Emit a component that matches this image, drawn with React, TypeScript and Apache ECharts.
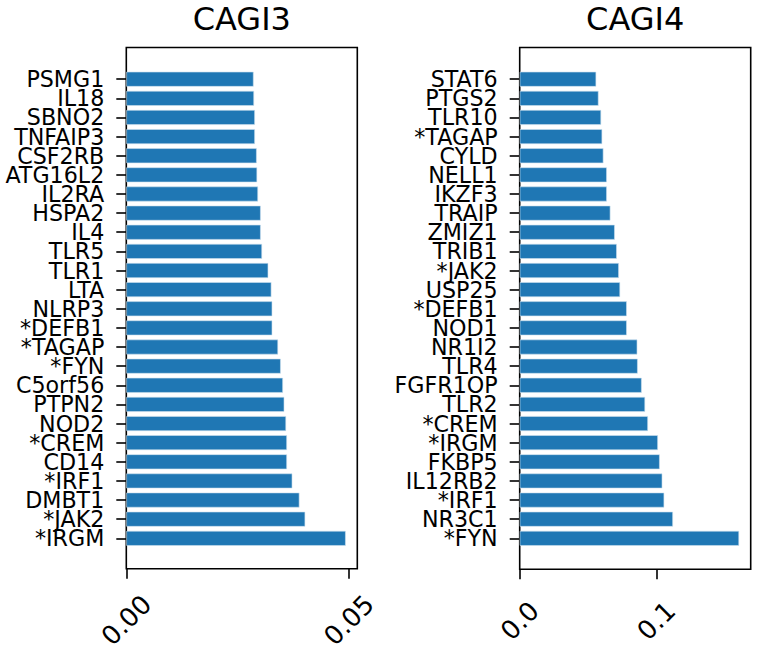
import React, { useEffect, useRef } from "react";
import * as echarts from "echarts";

// CAGI3 panel
const cagi3Genes = [
  "PSMG1", "IL18", "SBNO2", "TNFAIP3", "CSF2RB", "ATG16L2", "IL2RA", "HSPA2",
  "IL4", "TLR5", "TLR1", "LTA", "NLRP3", "*DEFB1", "*TAGAP", "*FYN",
  "C5orf56", "PTPN2", "NOD2", "*CREM", "CD14", "*IRF1", "DMBT1", "*JAK2", "*IRGM",
];
const cagi3Values = [
  0.0286, 0.0287, 0.0289, 0.0289, 0.0293, 0.0294, 0.0296, 0.0302,
  0.0302, 0.0305, 0.0319, 0.0326, 0.0328, 0.0328, 0.0341, 0.0347,
  0.0352, 0.0355, 0.0359, 0.0361, 0.0361, 0.0373, 0.0389, 0.0402, 0.0493,
];
const cagi3TickValues = [0, 0.05];
const cagi3TickLabels = ["0.00", "0.05"];
const cagi3Max = 0.0519;

// CAGI4 panel
const cagi4Genes = [
  "STAT6", "PTGS2", "TLR10", "*TAGAP", "CYLD", "NELL1", "IKZF3", "TRAIP",
  "ZMIZ1", "TRIB1", "*JAK2", "USP25", "*DEFB1", "NOD1", "NR1I2", "TLR4",
  "FGFR1OP", "TLR2", "*CREM", "*IRGM", "FKBP5", "IL12RB2", "*IRF1", "NR3C1", "*FYN",
];
const cagi4Values = [
  0.056, 0.0577, 0.0596, 0.0604, 0.0613, 0.0638, 0.0638, 0.0664,
  0.0696, 0.0711, 0.0726, 0.0735, 0.0784, 0.0784, 0.0861, 0.0864,
  0.0893, 0.0918, 0.0939, 0.1012, 0.1025, 0.1044, 0.1058, 0.1122, 0.1606,
];
const cagi4TickValues = [0, 0.1];
const cagi4TickLabels = ["0.0", "0.1"];
const cagi4Max = 0.1691;

const titles = ["CAGI3", "CAGI4"];

const FONT = "DejaVu Sans";
const BAR_COLOR = "#1f77b4";

export default function App() {
  const ref = useRef<HTMLDivElement>(null);

  useEffect(() => {
    if (!ref.current) return;
    const chart = echarts.init(ref.current, null, { renderer: "svg" });

    const panels = [
      { left: 126.3, width: 231, genes: cagi3Genes, values: cagi3Values, tv: cagi3TickValues, tl: cagi3TickLabels, max: cagi3Max },
      { left: 519.7, width: 231, genes: cagi4Genes, values: cagi4Values, tv: cagi4TickValues, tl: cagi4TickLabels, max: cagi4Max },
    ];
    const frameTop = 47.5;
    const frameBottom = 569.3;
    const band = 19.13;
    const firstCenter = 79.2;
    const n = 25;
    const innerTop = firstCenter - band / 2;
    const innerHeight = band * n;

    const grid: any[] = [];
    const xAxis: any[] = [];
    const yAxis: any[] = [];
    const series: any[] = [];
    const graphic: any[] = [];

    panels.forEach((p, i) => {
      // frame grid
      grid.push({
        left: p.left, top: frameTop, width: p.width, height: frameBottom - frameTop,
        show: true, borderColor: "#000", borderWidth: 1.6, backgroundColor: "transparent",
      });
      // inner grid (category bands)
      grid.push({
        left: p.left, top: innerTop, width: p.width, height: innerHeight,
        show: false,
      });
      const labelMap: Record<string, string> = {};
      p.tv.forEach((v, k) => { labelMap[String(v)] = p.tl[k]; });
      xAxis.push({
        type: "value", gridIndex: 2 * i, min: 0, max: p.max,
        splitLine: { show: false },
        axisLine: { show: false },
        axisTick: { show: true, length: 10, lineStyle: { color: "#000", width: 1.6 }, customValues: p.tv },
        axisLabel: {
          show: true, customValues: p.tv, rotate: 45, margin: 51.5,
          align: "center", verticalAlign: "middle",
          fontFamily: FONT, fontSize: 26, color: "#000",
          formatter: (v: number) => labelMap[String(v)] ?? "",
        },
      });
      xAxis.push({
        type: "value", gridIndex: 2 * i + 1, min: 0, max: p.max, show: false,
      });
      yAxis.push({ type: "value", gridIndex: 2 * i, show: false });
      yAxis.push({
        type: "category", gridIndex: 2 * i + 1, data: p.genes, inverse: true,
        axisLine: { show: false },
        axisTick: { show: true, alignWithLabel: true, length: 10, lineStyle: { color: "#000", width: 1.6 } },
        axisLabel: { margin: 22, fontFamily: FONT, fontSize: 22.2, color: "#000", interval: 0 },
        splitLine: { show: false },
      });
      series.push({
        type: "bar", xAxisIndex: 2 * i + 1, yAxisIndex: 2 * i + 1,
        data: p.values, barCategoryGap: "22%",
        itemStyle: { color: BAR_COLOR, borderColor: "#cfe0ee", borderWidth: 0.6 },
        silent: true,
      });
      graphic.push({
        type: "text", x: p.left + p.width / 2, y: 19,
        style: {
          text: titles[i], textAlign: "center", textVerticalAlign: "middle",
          fontFamily: FONT, fontSize: 32, fill: "#000",
        },
      });
    });

    chart.setOption({
      animation: false,
      backgroundColor: "#fff",
      grid, xAxis, yAxis, series, graphic,
    });
    return () => chart.dispose();
  }, []);

  return (
    <div
      ref={ref}
      style={{ position: "fixed", left: 0, top: 0, width: 757, height: 652 }}
    />
  );
}
